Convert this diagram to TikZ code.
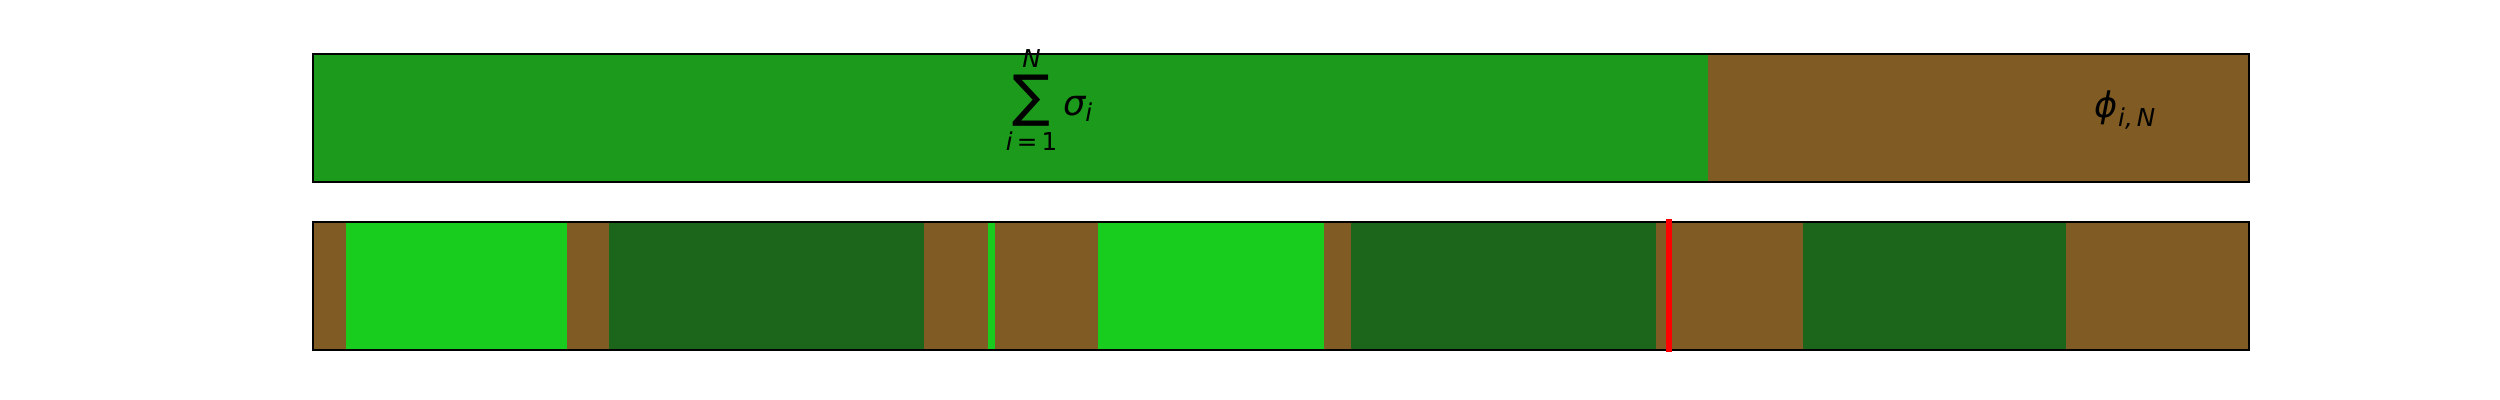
\documentclass[tikz,border=0pt]{standalone}
\usepackage{amsmath}
\usepackage{fontspec}
\setmainfont{DejaVu Sans}
\usepackage{xcolor}
\usepackage{tikz}
\definecolor{sumgreen}{HTML}{1C9A1C}
\definecolor{soil}{HTML}{805B23}
\definecolor{lightgreen}{HTML}{19CD1E}
\definecolor{darkgreen}{HTML}{1C661C}

\begin{document}
\begin{tikzpicture}[x=0.01cm, y=-0.01cm, inner sep=0pt]
\tikzstyle{frame}=[draw=black, line width=0.5pt]
\tikzstyle{cut}=[draw=red, line width=1.5pt]
\tikzstyle{every node}=[font=\fontsize{10}{12}\selectfont]
\useasboundingbox (0,0) rectangle (2500,400);

% upper bar
\fill[sumgreen] (313,54) rectangle (1708,182);
\fill[soil] (1708,54) rectangle (2249,182);
\draw[frame] (313,54) rectangle (2249,182);
\node[anchor=base] (sum) at (1050,115)
  {$\displaystyle\mathop{\text{\fontsize{16}{16}\selectfont ∑}}\limits_{\text{\itshape i\,=\,\upshape 1}}^{\text{\itshape N}}\text{\itshape σ}_{\text{\itshape i}}$};
\node[anchor=base] (phi) at (2126,117)
  {$\text{\itshape ϕ}_{\text{\itshape i,\,N}}$};

% lower bar
\foreach \a/\b/\c in {313/346/soil, 346/567/lightgreen, 567/609/soil, 609/924/darkgreen,
  924/988/soil, 988/995/lightgreen, 995/1098/soil, 1098/1324/lightgreen, 1324/1351/soil,
  1351/1656/darkgreen, 1656/1803/soil, 1803/2066/darkgreen, 2066/2249/soil}
  \fill[\c] (\a,222) rectangle (\b,350);
\draw[frame] (313,222) rectangle (2249,350);

\coordinate (mtop) at (1669,219);
\coordinate (mbot) at (1669,352);
\draw[cut] (mtop) -- (mbot);
\end{tikzpicture}
\end{document}
